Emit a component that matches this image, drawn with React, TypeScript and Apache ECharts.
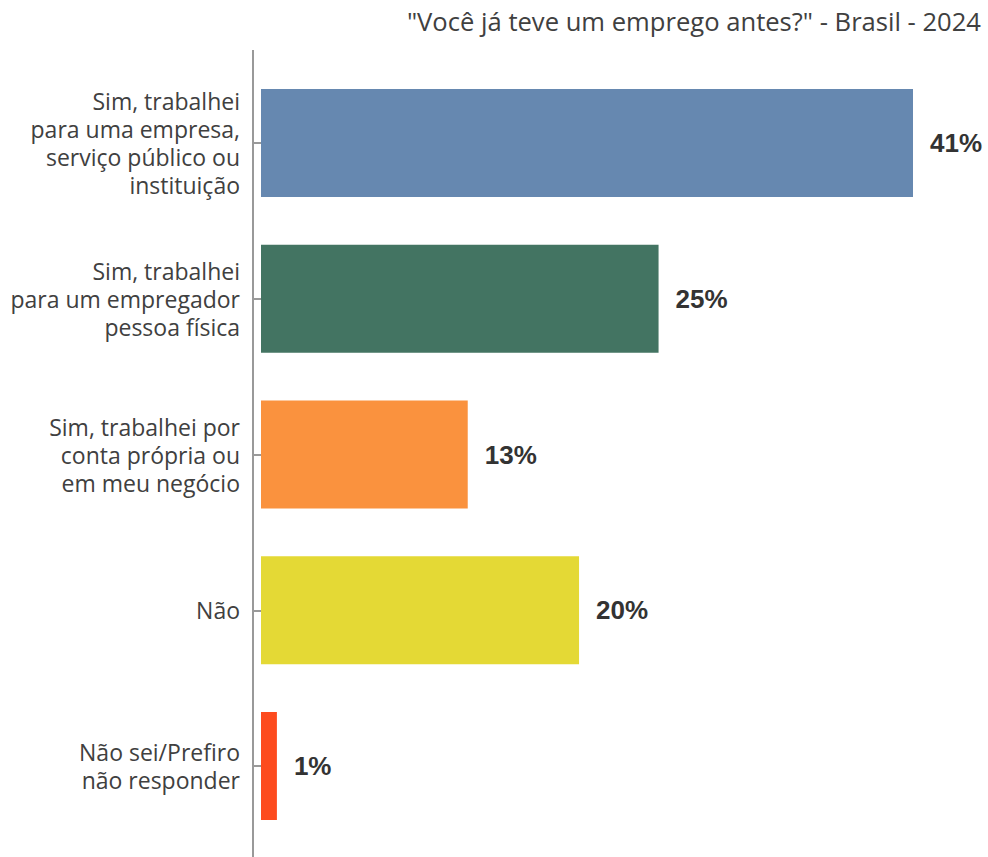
import React, { useEffect, useRef } from "react";
import * as echarts from "echarts";

const categories = [
  "Sim, trabalhei\npara uma empresa,\nserviço público ou\ninstituição",
  "Sim, trabalhei\npara um empregador\npessoa física",
  "Sim, trabalhei por\nconta própria ou\nem meu negócio",
  "Não",
  "Não sei/Prefiro\nnão responder",
];
const values = [41, 25, 13, 20, 1];
const colors = ["#6688B0", "#437462", "#FA923E", "#E4D935", "#FD4B1E"];
const titleText = '"Você já teve um emprego antes?" - Brasil - 2024';

export default function App() {
  const ref = useRef<HTMLDivElement>(null);
  useEffect(() => {
    if (!ref.current) return;
    const chart = echarts.init(ref.current, undefined, { renderer: "svg" });
    chart.setOption({
      animation: false,
      backgroundColor: "#ffffff",
      title: {
        text: titleText,
        right: 2,
        top: 3,
        textStyle: {
          fontFamily: "Open Sans",
          fontSize: 25.6,
          fontWeight: "normal",
          color: "#404040",
        },
      },
      grid: { left: 261, right: 75, top: 65, bottom: 13, containLabel: false },
      xAxis: { type: "value", min: 0, max: 41, show: false },
      yAxis: {
        type: "category",
        inverse: true,
        data: categories,
        offset: 8,
        axisLine: { show: false },
        axisTick: {
          show: true,
          alignWithLabel: true,
          length: 7,
          lineStyle: { color: "#999999", width: 2 },
        },
        axisLabel: {
          margin: 13,
          fontFamily: "Open Sans",
          fontSize: 23,
          lineHeight: 28,
          color: "#404040",
          align: "right",
        },
        splitLine: { show: false },
      },
      graphic: [
        {
          type: "line",
          shape: { x1: 253, y1: 50, x2: 253, y2: 857 },
          style: { stroke: "#999999", lineWidth: 2 },
        },
      ],
      series: [
        {
          type: "bar",
          barWidth: 108,
          data: values.map((v, i) => ({ value: v, itemStyle: { color: colors[i] } })),
          label: {
            show: true,
            position: "right",
            distance: 17,
            formatter: "{c}%",
            fontFamily: "Liberation Sans",
            fontWeight: "bold",
            fontSize: 26,
            color: "#333333",
          },
        },
      ],
    });
    return () => chart.dispose();
  }, []);
  return (
    <div
      ref={ref}
      style={{ position: "absolute", left: 0, top: 0, width: 988, height: 857 }}
    />
  );
}
